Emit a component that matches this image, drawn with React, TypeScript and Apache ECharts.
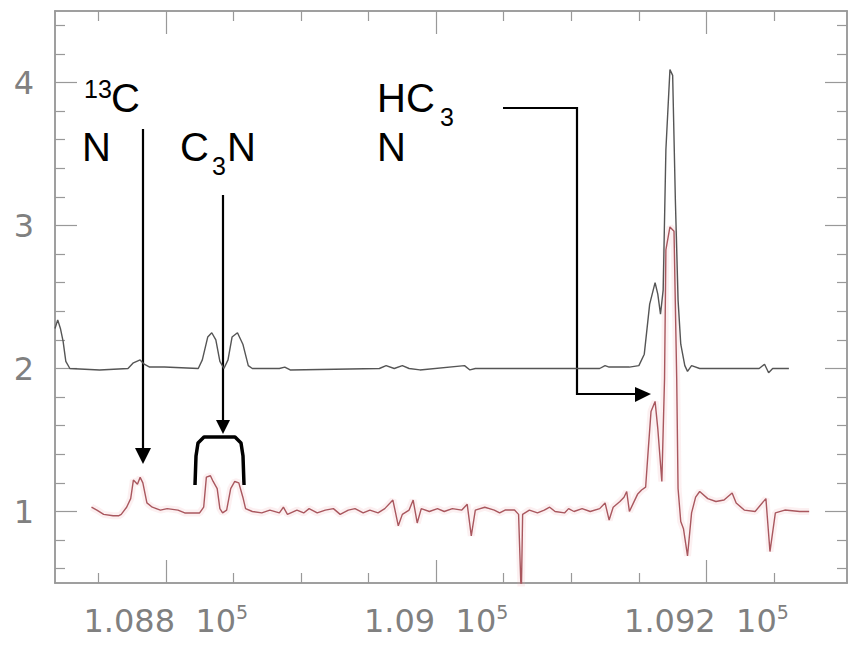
import React, { useEffect, useRef } from "react";
import * as echarts from "echarts";

// Frequency axis (MHz) and intensity axis
const FREQ_MIN = 108718;
const FREQ_MAX = 109304;
const Y_MIN = 0.5;
const Y_MAX = 4.5;
const xMajorTicks = [108800, 109000, 109200];
const xMinorTicks = [108750, 108850, 108900, 108950, 109050, 109100, 109150, 109250];
const yMajorTicks = [1, 2, 3, 4];
const yMinorTicks = [0.6, 0.8, 1.2, 1.4, 1.6, 1.8, 2.2, 2.4, 2.6, 2.8, 3.2, 3.4, 3.6, 3.8, 4.2, 4.4];

// Upper spectrum (black, offset +1): [frequency, intensity]
const upperSpectrum: [number, number][] = [
  [108718, 2.28], [108720, 2.34], [108722, 2.28], [108724, 2.19], [108726, 2.05], [108729, 2.0],
  [108751, 1.99], [108772, 2.0], [108776, 2.04], [108781, 2.06], [108784, 2.03], [108788, 2.01],
  [108799, 2.01], [108824, 2.0], [108827, 2.06], [108831, 2.22], [108834, 2.25], [108837, 2.2],
  [108840, 2.05], [108843, 2.0], [108846, 2.06], [108849, 2.22], [108853, 2.25], [108857, 2.17],
  [108861, 2.02], [108864, 2.0], [108884, 2.0], [108888, 2.01], [108892, 1.99], [108958, 2.0],
  [108963, 2.02], [108969, 2.0], [108975, 2.02], [108980, 2.0], [108988, 1.99], [109021, 2.02],
  [109025, 1.99], [109029, 2.0], [109121, 2.0], [109125, 2.02], [109128, 2.01], [109136, 2.01],
  [109143, 2.01], [109150, 2.02], [109154, 2.1], [109158, 2.45], [109162, 2.6], [109164, 2.52],
  [109166, 2.38], [109168, 2.55], [109170, 3.53], [109173, 4.09], [109175, 4.05], [109177, 3.18],
  [109179, 2.48], [109181, 2.17], [109184, 2.02], [109186, 1.98], [109189, 2.02], [109195, 2.0],
  [109239, 2.0], [109243, 2.03], [109246, 1.97], [109249, 2.0], [109261, 2.0],
];

// Lower spectrum (red): [frequency, intensity]
const lowerSpectrum: [number, number][] = [
  [108745, 1.03], [108749, 1.01], [108754, 0.98], [108761, 0.97], [108765, 0.97], [108767, 0.98],
  [108771, 1.03], [108774, 1.09], [108776, 1.22], [108779, 1.19], [108781, 1.24], [108783, 1.2],
  [108786, 1.06], [108790, 1.03], [108796, 1.01], [108801, 1.02], [108809, 1.01], [108814, 0.99],
  [108825, 0.99], [108828, 1.03], [108830, 1.24], [108833, 1.25], [108835, 1.21], [108838, 1.16],
  [108840, 1.02], [108842, 0.99], [108845, 1.01], [108848, 1.16], [108851, 1.21], [108854, 1.2],
  [108857, 1.1], [108859, 1.02], [108864, 1.0], [108871, 0.99], [108877, 1.01], [108884, 0.99],
  [108887, 1.03], [108890, 0.98], [108897, 1.01], [108902, 0.99], [108906, 1.02], [108912, 0.99],
  [108918, 1.01], [108924, 1.02], [108929, 0.98], [108935, 1.01], [108940, 1.02], [108946, 0.99],
  [108951, 1.01], [108957, 0.99], [108962, 1.02], [108968, 1.08], [108972, 0.9], [108975, 0.98],
  [108980, 1.01], [108983, 1.08], [108986, 0.92], [108989, 1.02], [108995, 1.0], [109001, 1.02],
  [109006, 1.0], [109012, 1.02], [109019, 1.01], [109023, 1.05], [109026, 0.83], [109029, 1.01],
  [109036, 1.03], [109043, 1.01], [109047, 0.99], [109051, 1.01], [109058, 1.01], [109061, 0.98],
  [109063, 0.4], [109064, 0.98], [109069, 1.01], [109075, 0.99], [109080, 1.01], [109084, 1.03],
  [109088, 1.0], [109095, 0.99], [109098, 1.02], [109102, 1.0], [109108, 1.02], [109114, 1.0],
  [109121, 1.02], [109125, 1.06], [109128, 0.94], [109131, 1.03], [109136, 1.07], [109139, 1.1],
  [109141, 1.14], [109143, 1.0], [109146, 1.06], [109149, 1.12], [109152, 1.15], [109155, 1.17],
  [109157, 1.44], [109159, 1.7], [109162, 1.77], [109164, 1.58], [109167, 1.21], [109169, 1.93],
  [109170, 2.83], [109173, 2.99], [109176, 2.96], [109178, 1.93], [109179, 1.16], [109181, 0.93],
  [109183, 0.88], [109186, 0.69], [109189, 0.99], [109192, 1.1], [109195, 1.14], [109201, 1.09],
  [109207, 1.07], [109213, 1.08], [109219, 1.13], [109222, 1.06], [109228, 1.01], [109236, 1.0],
  [109244, 1.09], [109247, 0.72], [109251, 0.99], [109258, 1.01], [109269, 1.0], [109276, 1.0],
];

const AXIS_GREY = "#999";
const LABEL_GREY = "#808080";
const ANN_FONT = "Liberation Sans, Arial, sans-serif";

export default function App() {
  const ref = useRef<HTMLDivElement>(null);

  useEffect(() => {
    if (!ref.current) return;
    const chart = echarts.init(ref.current, undefined, { renderer: "svg" });

    const baseX = {
      type: "value" as const,
      min: FREQ_MIN,
      max: FREQ_MAX,
      splitLine: { show: false },
      axisLine: { show: true, lineStyle: { color: AXIS_GREY, width: 1.5 } },
    };
    const baseY = {
      type: "value" as const,
      min: Y_MIN,
      max: Y_MAX,
      splitLine: { show: false },
      axisLine: { show: true, lineStyle: { color: AXIS_GREY, width: 1.5 } },
    };
    const xLabelFmt = (v: number) => `{a|${String(+(v / 1e5).toFixed(3))}  10}{s|5}`;

    const mkXAxis = (position: "top" | "bottom", ticks: number[], len: number, labels: boolean) => ({
      ...baseX,
      position,
      axisTick: { show: true, inside: true, length: len, customValues: ticks, lineStyle: { color: AXIS_GREY, width: 1.2 } },
      axisLabel: labels
        ? {
            show: true,
            customValues: ticks,
            margin: 19,
            formatter: xLabelFmt,
            rich: {
              a: { fontSize: 32, color: LABEL_GREY, fontFamily: "DejaVu Sans", lineHeight: 38 },
              s: { fontSize: 19, color: LABEL_GREY, fontFamily: "DejaVu Sans", verticalAlign: "top", lineHeight: 38, padding: [0, 0, 15, 0] },
            },
          }
        : { show: false },
    });
    const mkYAxis = (position: "left" | "right", ticks: number[], len: number, labels: boolean) => ({
      ...baseY,
      position,
      axisTick: { show: true, inside: true, length: len, customValues: ticks, lineStyle: { color: AXIS_GREY, width: 1.2 } },
      axisLabel: labels
        ? { show: true, customValues: ticks, margin: 21, fontSize: 32, color: LABEL_GREY, fontFamily: "DejaVu Sans" }
        : { show: false },
    });

    const arrowW = 2.2;
    const option = {
      animation: false,
      backgroundColor: "#fff",
      grid: { left: 55, right: 1, top: 11, bottom: 62 },
      xAxis: [
        mkXAxis("bottom", xMajorTicks, 23, true),
        mkXAxis("bottom", xMinorTicks, 10, false),
        mkXAxis("top", xMajorTicks, 23, false),
        mkXAxis("top", xMinorTicks, 10, false),
      ],
      yAxis: [
        mkYAxis("left", yMajorTicks, 22, true),
        mkYAxis("left", yMinorTicks, 10, false),
        mkYAxis("right", yMajorTicks, 22, false),
        mkYAxis("right", yMinorTicks, 10, false),
      ],
      series: [
        {
          type: "line",
          data: lowerSpectrum,
          showSymbol: false,
          silent: true,
          lineStyle: { color: "rgba(238,160,170,0.16)", width: 7 },
          z: 1,
        },
        {
          type: "line",
          data: lowerSpectrum,
          showSymbol: false,
          lineStyle: { color: "#a9575e", width: 1.4 },
          z: 3,
        },
        {
          type: "line",
          data: upperSpectrum,
          showSymbol: false,
          lineStyle: { color: "#555", width: 1.4 },
          z: 2,
        },
      ],
      graphic: [
        // 13CN label
        { type: "text", x: 84, y: 89, style: { text: "13", font: `25px ${ANN_FONT}`, fill: "#000", verticalAlign: "middle" } },
        { type: "text", x: 111, y: 98, style: { text: "C", font: `40px ${ANN_FONT}`, fill: "#000", verticalAlign: "middle" } },
        { type: "text", x: 82, y: 147, style: { text: "N", font: `40px ${ANN_FONT}`, fill: "#000", verticalAlign: "middle" } },
        // C3N label
        { type: "text", x: 180, y: 147, style: { text: "C", font: `40px ${ANN_FONT}`, fill: "#000", verticalAlign: "middle" } },
        { type: "text", x: 212, y: 166, style: { text: "3", font: `25px ${ANN_FONT}`, fill: "#000", verticalAlign: "middle" } },
        { type: "text", x: 227, y: 147, style: { text: "N", font: `40px ${ANN_FONT}`, fill: "#000", verticalAlign: "middle" } },
        // HC3N label
        { type: "text", x: 377, y: 98, style: { text: "HC", font: `40px ${ANN_FONT}`, fill: "#000", verticalAlign: "middle" } },
        { type: "text", x: 440, y: 117, style: { text: "3", font: `25px ${ANN_FONT}`, fill: "#000", verticalAlign: "middle" } },
        { type: "text", x: 377, y: 147, style: { text: "N", font: `40px ${ANN_FONT}`, fill: "#000", verticalAlign: "middle" } },
        // 13CN arrow
        { type: "line", shape: { x1: 143, y1: 129, x2: 143, y2: 450 }, style: { stroke: "#000", lineWidth: arrowW } },
        { type: "polygon", shape: { points: [[135, 448], [151, 448], [143, 464]] }, style: { fill: "#000" } },
        // C3N arrow + bracket
        { type: "line", shape: { x1: 223, y1: 195, x2: 223, y2: 422 }, style: { stroke: "#000", lineWidth: arrowW } },
        { type: "polygon", shape: { points: [[216, 420], [230, 420], [223, 434]] }, style: { fill: "#000" } },
        {
          type: "polyline",
          shape: {
            points: [[195, 485], [196, 456], [198, 443], [204, 437], [235, 437], [241, 443], [243, 456], [244, 485]],
          },
          style: { stroke: "#000", lineWidth: 3.5, fill: null, lineJoin: "round" },
        },
        // HC3N arrow
        {
          type: "polyline",
          shape: { points: [[503, 108], [577, 108], [577, 394], [637, 394]] },
          style: { stroke: "#000", lineWidth: arrowW, fill: null },
        },
        { type: "polygon", shape: { points: [[635, 387], [635, 402], [651, 394]] }, style: { fill: "#000" } },
      ],
    };

    chart.setOption(option as any);
    return () => chart.dispose();
  }, []);

  return (
    <div
      ref={ref}
      style={{ position: "fixed", left: 0, top: 0, width: 848, height: 645, background: "#fff" }}
    />
  );
}
